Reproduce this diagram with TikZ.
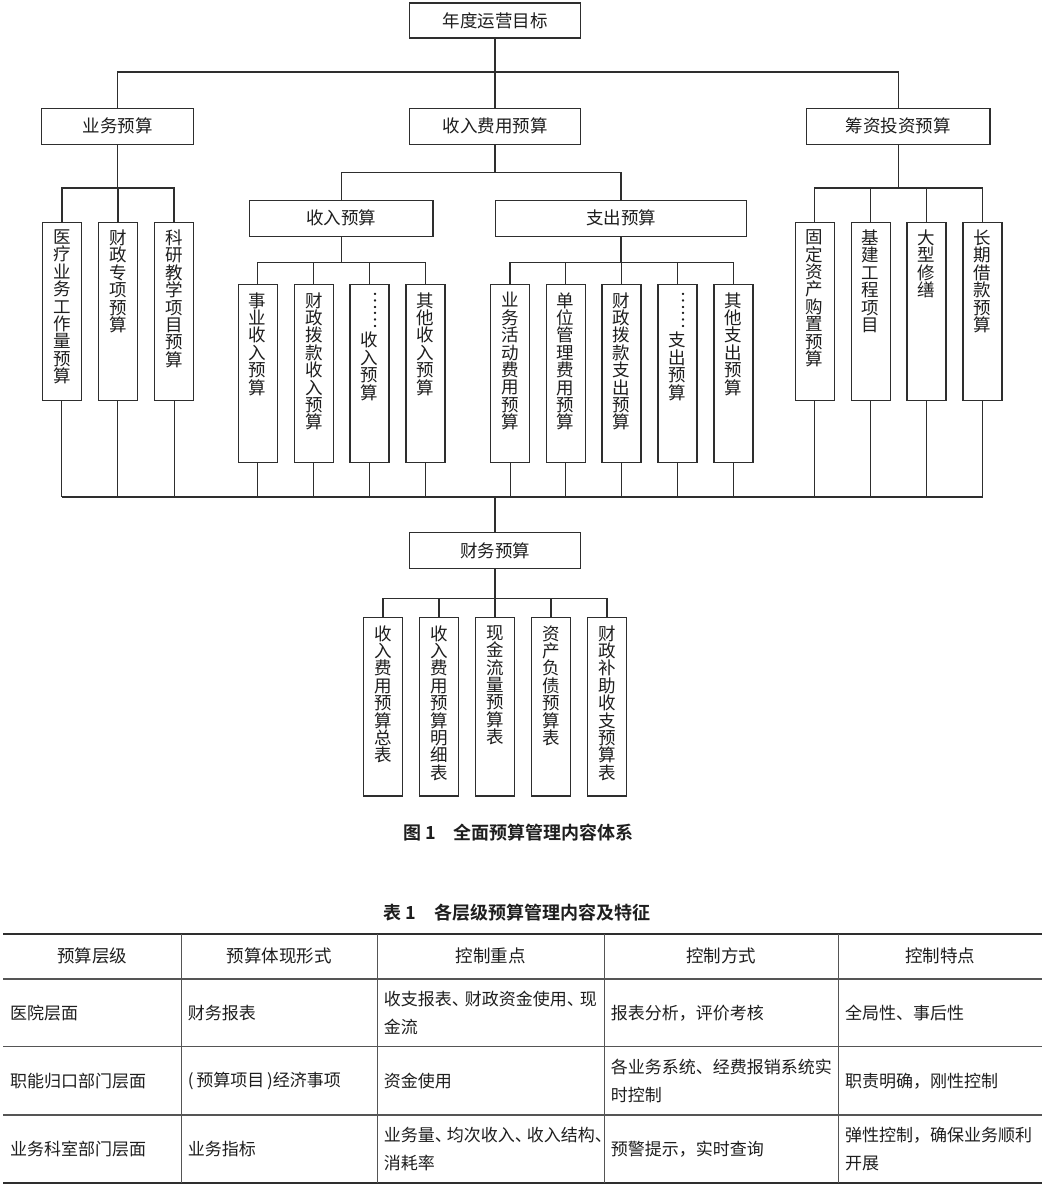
\documentclass[tikz,border=0pt]{standalone}
\usepackage{fontspec}
\usepackage{graphicx}
\setmainfont{Noto Sans CJK SC}
\newfontfamily\capfont{Noto Sans CJK SC Bold}
\definecolor{lineC}{HTML}{2E2E2E}
\definecolor{txtC}{HTML}{1E1E1E}
\definecolor{ruleC}{HTML}{555555}
\newcommand\vellip{\rotatebox{90}{\raisebox{-0.38em}[0.1em][0.1em]{……}}}
\begin{document}
\begin{tikzpicture}[x=1pt,y=-1pt,
  ln/.style={draw=lineC, line width=1.2pt},
  hb/.style={draw=lineC, line width=1.2pt, inner sep=0pt, minimum height=36pt, text=txtC, font=\fontsize{17.5}{17.5}\selectfont},
  vb/.style={draw=lineC, line width=1.2pt, inner sep=0pt, minimum width=39pt},
  vbA/.style={vb, minimum height=178pt},
  vbB/.style={vb, minimum height=178.4pt},
  vbE/.style={vb, minimum height=178.7pt},
  vt/.style={anchor=north, inner sep=0pt, align=center, text=txtC, font=\fontsize{17.5}{17.4}\selectfont},
  captxt/.style={anchor=west, inner sep=0pt, text=txtC, font=\capfont\fontsize{18}{18}\selectfont},
  th/.style={inner sep=0pt, text=txtC, font=\fontsize{17.5}{17.5}\selectfont},
  td/.style={anchor=west, inner sep=0pt, align=left, text=txtC, font=\fontsize{17}{28.5}\selectfont},
  rl/.style={draw=ruleC, line width=1.3pt},
  vrl/.style={draw=ruleC, line width=1pt},
  trl/.style={draw=lineC, line width=2.2pt}
]
\useasboundingbox (0,0) rectangle (1056,1184);
\fill[white] (0,0) rectangle (1056,1184);

% ---------- top levels ----------
\node[hb, minimum width=171pt, minimum height=35pt] (top) at (495,20.5) {年度运营目标};
\node[hb, minimum width=152pt] (yw) at (117.5,126.3) {业务预算};
\node[hb, minimum width=171pt] (sr) at (495,126.3) {收入费用预算};
\node[hb, minimum width=183.5pt] (cz) at (898.2,126.3) {筹资投资预算};
\node[hb, minimum width=183.5pt] (srys) at (341.2,218.3) {收入预算};
\node[hb, minimum width=250.7pt] (zcys) at (621,218.3) {支出预算};
\node[hb, minimum width=171.4pt, minimum height=35.6pt] (cw) at (495,550.5) {财务预算};

% ---------- leaf boxes ----------
\node[vbA] (a1) at (61.9,311.7) {};
\node[vbA] (a2) at (117.9,311.7) {};
\node[vbA] (a3) at (174,311.7) {};
\node[vbA] (d1) at (814.7,311.7) {};
\node[vbA] (d2) at (870.6,311.7) {};
\node[vbA] (d3) at (926.5,311.7) {};
\node[vbA] (d4) at (982.5,311.7) {};
\node[vbB] (b1) at (257.7,373.5) {};
\node[vbB] (b2) at (313.8,373.5) {};
\node[vbB] (b3) at (369.5,373.5) {};
\node[vbB] (b4) at (425.5,373.5) {};
\node[vbB] (c1) at (510,373.5) {};
\node[vbB] (c2) at (565.7,373.5) {};
\node[vbB] (c3) at (621.4,373.5) {};
\node[vbB] (c4) at (677.4,373.5) {};
\node[vbB] (c5) at (733.5,373.5) {};
\node[vbE] (e1) at (383,706.65) {};
\node[vbE] (e2) at (439,706.65) {};
\node[vbE] (e3) at (495,706.65) {};
\node[vbE] (e4) at (551,706.65) {};
\node[vbE] (e5) at (607,706.65) {};

% ---------- leaf texts ----------
\node[vt] (a1t) at ([yshift=-7.5pt]a1.north) {医\\疗\\业\\务\\工\\作\\量\\预\\算};
\node[vt] (a2t) at ([yshift=-7.5pt]a2.north) {财\\政\\专\\项\\预\\算};
\node[vt] (a3t) at ([yshift=-7.5pt]a3.north) {科\\研\\教\\学\\项\\目\\预\\算};
\node[vt] (d1t) at ([yshift=-7.5pt]d1.north) {固\\定\\资\\产\\购\\置\\预\\算};
\node[vt] (d2t) at ([yshift=-7.5pt]d2.north) {基\\建\\工\\程\\项\\目};
\node[vt] (d3t) at ([yshift=-7.5pt]d3.north) {大\\型\\修\\缮};
\node[vt] (d4t) at ([yshift=-7.5pt]d4.north) {长\\期\\借\\款\\预\\算};
\node[vt] (b1t) at ([yshift=-8.5pt]b1.north) {事\\业\\收\\入\\预\\算};
\node[vt] (b2t) at ([yshift=-8.5pt]b2.north) {财\\政\\拨\\款\\收\\入\\预\\算};
\node[vt] (b3t) at ([yshift=-8.5pt]b3.north) {\vellip\\收\\入\\预\\算};
\node[vt] (b4t) at ([yshift=-8.5pt]b4.north) {其\\他\\收\\入\\预\\算};
\node[vt] (c1t) at ([yshift=-8.5pt]c1.north) {业\\务\\活\\动\\费\\用\\预\\算};
\node[vt] (c2t) at ([yshift=-8.5pt]c2.north) {单\\位\\管\\理\\费\\用\\预\\算};
\node[vt] (c3t) at ([yshift=-8.5pt]c3.north) {财\\政\\拨\\款\\支\\出\\预\\算};
\node[vt] (c4t) at ([yshift=-8.5pt]c4.north) {\vellip\\支\\出\\预\\算};
\node[vt] (c5t) at ([yshift=-8.5pt]c5.north) {其\\他\\支\\出\\预\\算};
\node[vt] (e1t) at ([yshift=-8.5pt]e1.north) {收\\入\\费\\用\\预\\算\\总\\表};
\node[vt] (e2t) at ([yshift=-8.5pt]e2.north) {收\\入\\费\\用\\预\\算\\明\\细\\表};
\node[vt] (e3t) at ([yshift=-8.5pt]e3.north) {现\\金\\流\\量\\预\\算\\表};
\node[vt] (e4t) at ([yshift=-8.5pt]e4.north) {资\\产\\负\\债\\预\\算\\表};
\node[vt] (e5t) at ([yshift=-8.5pt]e5.north) {财\\政\\补\\助\\收\\支\\预\\算\\表};

% ---------- junctions ----------
\coordinate (j1) at (495,72);
\coordinate (j2) at (495,172.7);
\coordinate (barA) at (117.5,188);
\coordinate (barD) at (898.2,188);
\coordinate (barB) at (341.2,262.7);
\coordinate (barC) at (621,262.7);
\coordinate (bot) at (495,496.7);
\coordinate (barE) at (495,598.3);

% ---------- connectors ----------
\draw[ln] (top.south) -- (sr.north);
\draw[ln] (yw.north) |- (j1) -| (cz.north);
\draw[ln] (sr.south) -- (j2);
\draw[ln] (srys.north) |- (j2) -| (zcys.north);

\draw[ln] (yw.south) -- (yw.south |- barA);
\draw[ln] (a1.north) |- (barA) -| (a3.north);
\draw[ln] (a2.north) -- (a2.north |- barA);

\draw[ln] (cz.south) -- (cz.south |- barD);
\draw[ln] (d1.north) |- (barD) -| (d4.north);
\foreach \n in {d2,d3} \draw[ln] (\n.north) -- (\n.north |- barD);

\draw[ln] (srys.south) -- (srys.south |- barB);
\draw[ln] (b1.north) |- (barB) -| (b4.north);
\foreach \n in {b2,b3} \draw[ln] (\n.north) -- (\n.north |- barB);

\draw[ln] (zcys.south) -- (zcys.south |- barC);
\draw[ln] (c1.north) |- (barC) -| (c5.north);
\foreach \n in {c2,c3,c4} \draw[ln] (\n.north) -- (\n.north |- barC);

\foreach \n in {a1,a2,a3,b1,b2,b3,b4,c1,c2,c3,c4,c5,d1,d2,d3,d4}
  \draw[ln, line width=1pt] (\n.south) -- (\n.south |- bot);
\draw[ln, line width=1.8pt] (a1.south |- bot) -- (d4.south |- bot);
\draw[ln] (bot) -- (cw.north);

\draw[ln] (cw.south) -- (barE);
\draw[ln] (e1.north) |- (barE) -| (e5.north);
\foreach \n in {e2,e3,e4} \draw[ln] (\n.north) -- (\n.north |- barE);

% ---------- captions ----------
\node[captxt] (fig) at (403,833) {图 1　全面预算管理内容体系};
\node[captxt] (tab) at (383.7,913) {表 1　各层级预算管理内容及特征};

% ---------- table ----------
\draw[trl] (3,934) -- (1042,934);
\draw[rl] (3,979) -- (1042,979);
\draw[rl] (3,1046.7) -- (1042,1046.7);
\draw[rl] (3,1115) -- (1042,1115);
\draw[trl] (3,1183) -- (1042,1183);
\foreach \x in {181,377,604.4,838} \draw[vrl] (\x,934) -- (\x,1183);

\node[th] (h1) at (92,955.7) {预算层级};
\node[th] (h2) at (279,955.7) {预算体现形式};
\node[th] (h3) at (490.5,955.7) {控制重点};
\node[th] (h4) at (721,955.7) {控制方式};
\node[th] (h5) at (940,955.7) {控制特点};

\node[td] (r1c1) at (10,1012.8) {医院层面};
\node[td] (r1c2) at (187.6,1012.8) {财务报表};
\node[td] (r1c3) at (383.7,1012.8) {收支报表、\kern-4pt 财政资金使用、\kern-4pt 现\\金流};
\node[td] (r1c4) at (610.6,1012.8) {报表分析，评价考核};
\node[td] (r1c5) at (844.8,1012.8) {全局性、事后性};

\node[td] (r2c1) at (10,1080.9) {职能归口部门层面};
\node[td] (r2c2) at (187.6,1080.9) {(\,预算项目\,)经济事项};
\node[td] (r2c3) at (383.7,1080.9) {资金使用};
\node[td] (r2c4) at (610.6,1080.9) {各业务系统、经费报销系统实\\时控制};
\node[td] (r2c5) at (844.8,1080.9) {职责明确，刚性控制};

\node[td] (r3c1) at (10,1149) {业务科室部门层面};
\node[td] (r3c2) at (187.6,1149) {业务指标};
\node[td] (r3c3) at (383.7,1149) {业务量、\kern-5pt 均次收入、\kern-5pt 收入结构、\\消耗率};
\node[td] (r3c4) at (610.6,1149) {预警提示，实时查询};
\node[td] (r3c5) at (844.8,1149) {弹性控制，确保业务顺利\\开展};
\end{tikzpicture}
\end{document}
